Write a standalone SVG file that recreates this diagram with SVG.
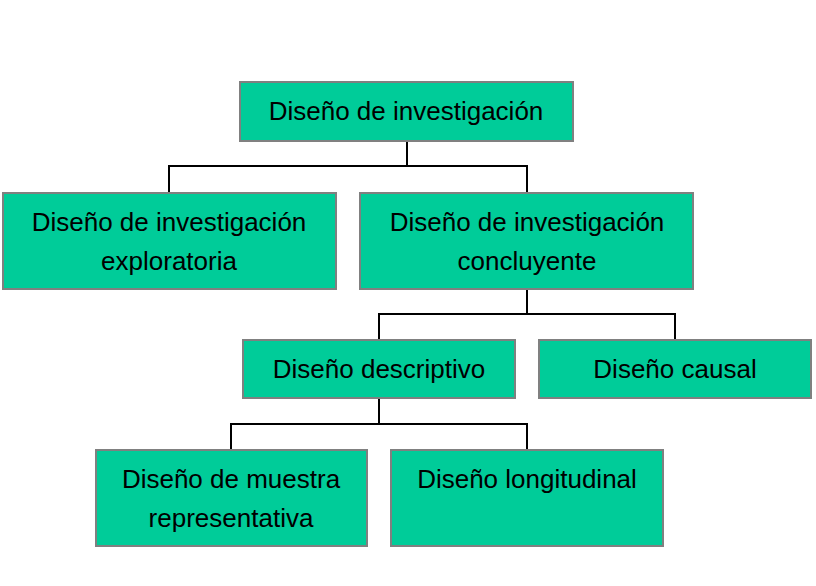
<svg xmlns="http://www.w3.org/2000/svg" width="816" height="586" viewBox="0 0 816 586">
<style>
.b{fill:#00CC99;stroke:#808080;stroke-width:2}
text{font-family:"Liberation Sans",Arial,sans-serif;font-size:26px;fill:#000;text-anchor:middle}
.c{fill:none;stroke:#000;stroke-width:2}
</style>
<rect width="816" height="586" fill="#fff"/>
<g id="connectors">
<path class="c" d="M407 141V166M169 193V166H527V193"/>
<path class="c" d="M527 289V314M379 340V314H675V340"/>
<path class="c" d="M379 398V424M231 450V424H527V450"/>
</g>
<g id="n1"><rect class="b" x="240" y="82" width="333" height="59"/><text x="406" y="120">Diseño de investigación</text></g>
<g id="n2"><rect class="b" x="3" y="193" width="333" height="96"/><text x="169" y="231">Diseño de investigación</text><text x="169" y="270">exploratoria</text></g>
<g id="n3"><rect class="b" x="360" y="193" width="333" height="96"/><text x="527" y="231">Diseño de investigación</text><text x="527" y="270">concluyente</text></g>
<g id="n4"><rect class="b" x="243" y="340" width="272" height="58"/><text x="379" y="378">Diseño descriptivo</text></g>
<g id="n5"><rect class="b" x="539" y="340" width="272" height="58"/><text x="675" y="378">Diseño causal</text></g>
<g id="n6"><rect class="b" x="96" y="450" width="271" height="96"/><text x="231" y="488">Diseño de muestra</text><text x="231" y="527">representativa</text></g>
<g id="n7"><rect class="b" x="391" y="450" width="272" height="96"/><text x="527" y="488">Diseño longitudinal</text></g>
</svg>
